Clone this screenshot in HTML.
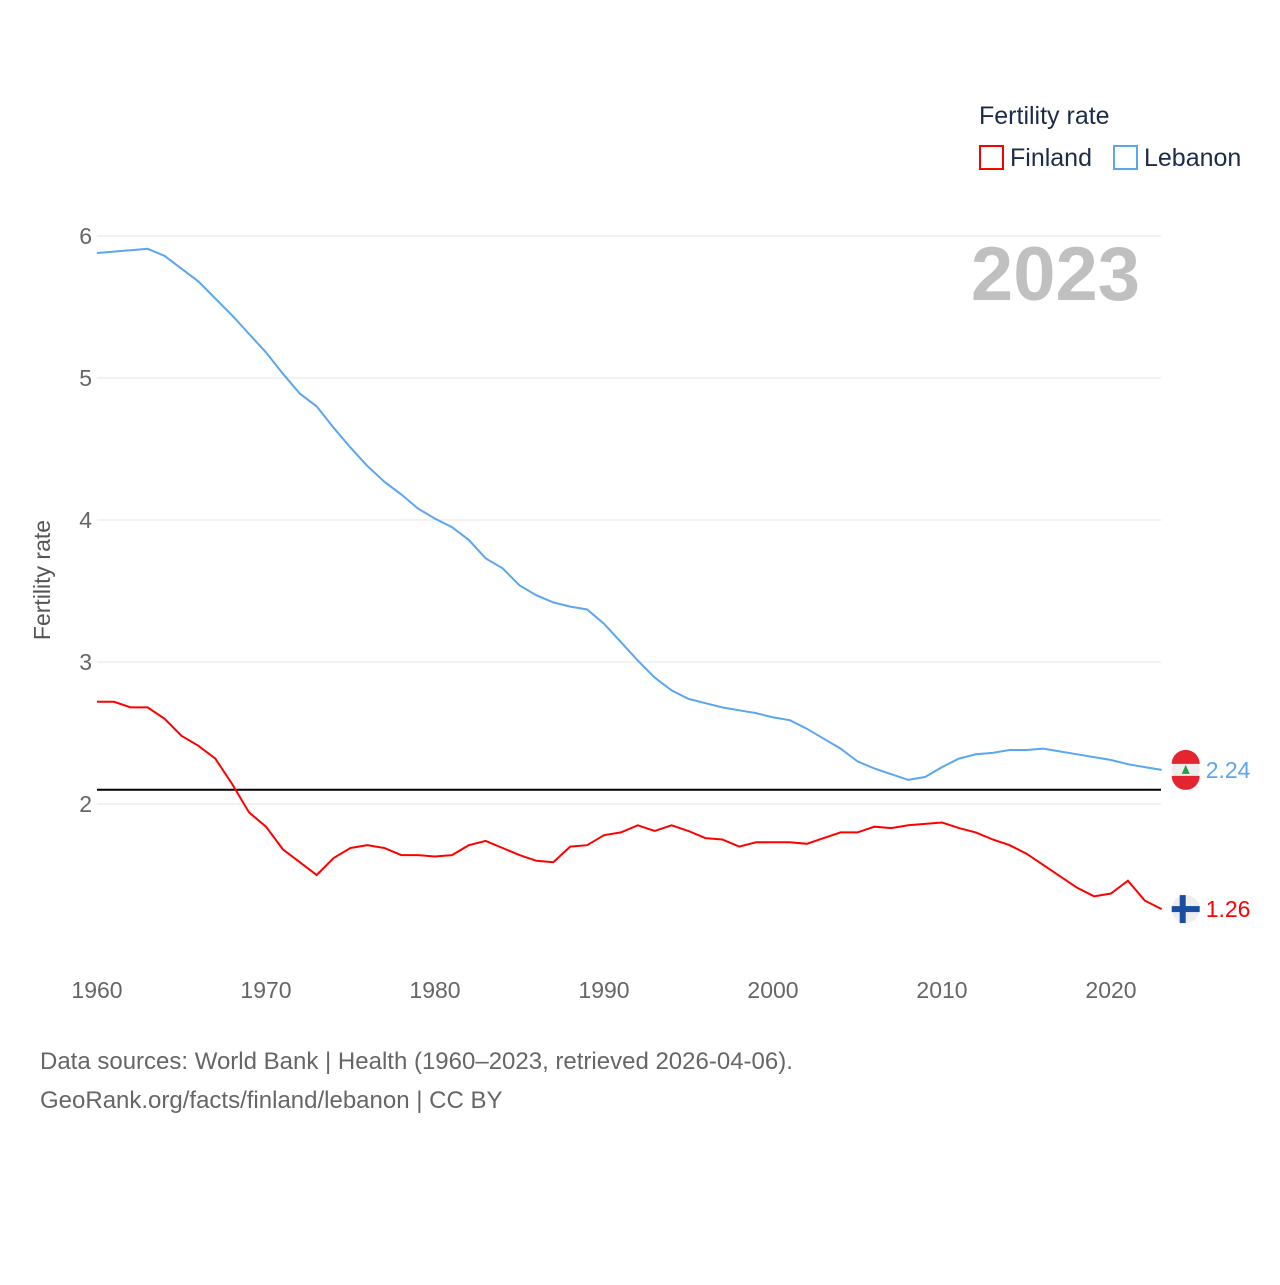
<!DOCTYPE html>
<html><head><meta charset="utf-8"><style>
body{margin:0;background:#fff;font-family:"Liberation Sans",sans-serif}
svg text{font-family:"Liberation Sans",sans-serif}
</style></head><body>
<svg width="1280" height="1280" viewBox="0 0 1280 1280">
<g id="grid"></g>
<g id="series"></g>
<text x="1140" y="300" text-anchor="end" font-size="76" font-weight="bold" fill="#c0c0c0">2023</text>
<text x="979" y="124" font-size="25" fill="#1d2b4a">Fertility rate</text>
<g><rect x="980" y="146" width="23" height="23" fill="none" stroke="#ff0000" stroke-width="2"/><text x="1010" y="166" font-size="25" fill="#1d2b4a">Finland</text></g>
<g><rect x="1114" y="146" width="23" height="23" fill="none" stroke="#5aa7f0" stroke-width="2"/><text x="1144" y="166" font-size="25" fill="#1d2b4a">Lebanon</text></g>
<text transform="translate(50,580) rotate(-90)" text-anchor="middle" font-size="23" fill="#555">Fertility rate</text>
<text x="40" y="1069" font-size="24" fill="#666">Data sources: World Bank | Health (1960–2023, retrieved 2026-04-06).</text>
<text x="40" y="1108" font-size="24" fill="#666">GeoRank.org/facts/finland/lebanon | CC BY</text>
</svg>
<script>
const years=[];for(let y=1960;y<=2023;y++)years.push(y);
const finland=[2.72,2.72,2.68,2.68,2.60,2.48,2.41,2.32,2.14,1.94,1.84,1.68,1.59,1.50,1.62,1.69,1.71,1.69,1.64,1.64,1.63,1.64,1.71,1.74,1.69,1.64,1.60,1.59,1.70,1.71,1.78,1.80,1.85,1.81,1.85,1.81,1.76,1.75,1.70,1.73,1.73,1.73,1.72,1.76,1.80,1.80,1.84,1.83,1.85,1.86,1.87,1.83,1.80,1.75,1.71,1.65,1.57,1.49,1.41,1.35,1.37,1.46,1.32,1.26];
const lebanon=[5.88,5.89,5.90,5.91,5.86,5.77,5.68,5.56,5.44,5.31,5.18,5.03,4.89,4.80,4.65,4.51,4.38,4.27,4.18,4.08,4.01,3.95,3.86,3.73,3.66,3.54,3.47,3.42,3.39,3.37,3.27,3.14,3.01,2.89,2.80,2.74,2.71,2.68,2.66,2.64,2.61,2.59,2.53,2.46,2.39,2.30,2.25,2.21,2.17,2.19,2.26,2.32,2.35,2.36,2.38,2.38,2.39,2.37,2.35,2.33,2.31,2.28,2.26,2.24];
const yTicks=[2,3,4,5,6];
const xTicks=[1960,1970,1980,1990,2000,2010,2020];
const refLine=2.1;
const NS="http://www.w3.org/2000/svg";
const X=y=>97+(y-1960)*16.9;
const Y=v=>236+(6-v)*142;
function mk(tag,attrs,parent,txt){const e=document.createElementNS(NS,tag);for(const k in attrs)e.setAttribute(k,attrs[k]);if(txt!==undefined)e.textContent=txt;parent.appendChild(e);return e;}
const grid=document.getElementById('grid'),ser=document.getElementById('series');
yTicks.forEach(t=>{
 const l=mk('line',{x1:97,x2:1161,y1:Y(t),y2:Y(t),stroke:'#e6e6e6','stroke-width':1},grid);
 
 
 const tx=mk('text',{x:92,y:Y(t)+8,'text-anchor':'end','font-size':23,fill:'#666'},grid,String(t));
 
 
});
xTicks.forEach(t=>{
 const tx=mk('text',{x:X(t),y:998,'text-anchor':'middle','font-size':23,fill:'#666'},grid,String(t));
 
 
});
const rl=mk('line',{x1:97,x2:1161,y1:Y(refLine),y2:Y(refLine),stroke:'#000','stroke-width':2},ser);


function line(vals,color,name,label){
 const d=vals.map((v,i)=>(i?'L':'M')+X(years[i]).toFixed(1)+','+Y(v).toFixed(1)).join('');
 const p=mk('path',{d:d,fill:'none',stroke:color,'stroke-width':2},ser);
 
 
 const last=vals[vals.length-1],lx=X(years[years.length-1]),ly=Y(last);
 const c=mk('circle',{cx:lx+24,cy:ly,r:14,fill:'#eee'},ser);
 
 
 const t=mk('text',{x:lx+44,y:ly+8,'font-size':23,fill:color},ser,label);
 
 
 return [lx+24,ly];
}
const [fx,fy]=line(finland,'#ff0000','finland',finland[finland.length-1].toFixed(2));
mk('rect',{x:fx-14,y:fy-3,width:28,height:6,fill:'#1a4fa0'},ser);
mk('rect',{x:fx-6,y:fy-14,width:6,height:28,fill:'#1a4fa0'},ser);
const [lx,ly]=line(lebanon,'#5aa7f0','lebanon',lebanon[lebanon.length-1].toFixed(2));
mk('path',{d:`M${lx-14},${ly-6}A14,14 0 0 1 ${lx+14},${ly-6}Z`,fill:'#e4252f'},ser);
mk('path',{d:`M${lx-14},${ly+6}A14,14 0 0 0 ${lx+14},${ly+6}Z`,fill:'#e4252f'},ser);
mk('path',{d:`M${lx},${ly-5}L${lx+4},${ly+4}L${lx-4},${ly+4}Z`,fill:'#2a9d4a'},ser);
</script>
</body></html>
